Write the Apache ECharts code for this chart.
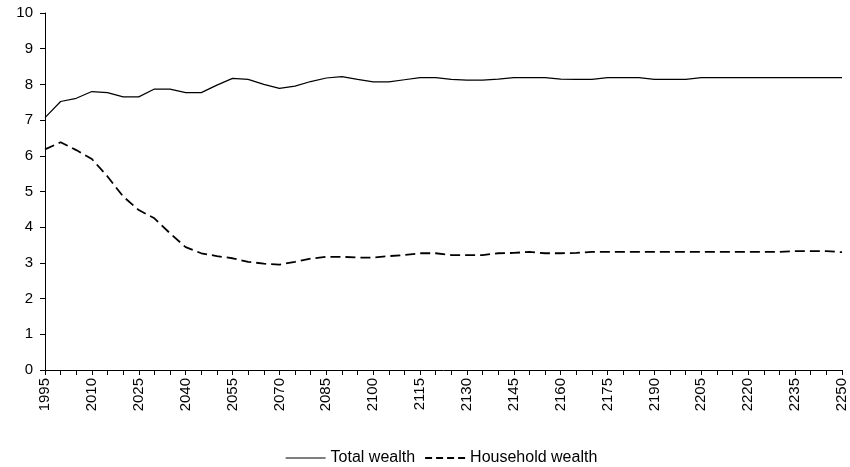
<!DOCTYPE html>
<html><head><meta charset="utf-8">
<script src="https://cdn.jsdelivr.net/npm/echarts@6/dist/echarts.min.js"></script>
<style>html,body{margin:0;padding:0;background:#fff}#c{width:850px;height:467px}</style>
</head><body><div id="c"></div>
<script>
var years = [];
for (var y = 1995; y <= 2250; y += 5) years.push(String(y));
var totalWealth = [7.07,7.52,7.61,7.80,7.77,7.65,7.65,7.87,7.87,7.77,7.77,7.98,8.17,8.14,8.00,7.89,7.95,8.08,
  8.18,8.22,8.14,8.07,8.07,8.13,8.19,8.19,8.14,8.12,8.12,8.15,8.19,8.19,8.19,8.15,8.14,
  8.14,8.19,8.19,8.19,8.14,8.14,8.14,8.19,8.19,8.19,8.19,8.19,8.19,8.19,8.19,8.19,8.19];
var householdWealth = [6.18,6.38,6.16,5.91,5.42,4.86,4.48,4.25,3.83,3.44,3.27,3.19,3.13,3.03,2.98,2.95,3.03,3.12,
  3.17,3.17,3.15,3.15,3.19,3.22,3.27,3.27,3.22,3.22,3.22,3.27,3.28,3.31,3.27,3.27,3.28,
  3.31,3.31,3.31,3.31,3.31,3.31,3.31,3.31,3.31,3.31,3.31,3.31,3.31,3.33,3.33,3.33,3.30];
var seriesNames = ['Total wealth', 'Household wealth'];
var font = 'Liberation Sans, Arial, sans-serif';
var chart = echarts.init(document.getElementById('c'));
chart.setOption({
  animation: false,
  backgroundColor: '#fff',
  grid: {left: 45, right: 8, top: 13, bottom: 97, containLabel: false},
  legend: {
    top: 445, left: 280, itemWidth: 40, itemHeight: 16, itemGap: 9,
    textStyle: {color: '#000', fontSize: 16, fontFamily: font},
    itemStyle: {opacity: 0},
    data: [
      {name: seriesNames[0], lineStyle: {color: '#000', width: 1.2, type: 'solid'}},
      {name: seriesNames[1], lineStyle: {color: '#000', width: 2, type: [7, 4]}}
    ]
  },
  xAxis: {
    type: 'category', data: years, boundaryGap: false,
    axisLine: {lineStyle: {color: '#000', width: 1}},
    axisTick: {show: true, interval: 0, length: 5, lineStyle: {color: '#000'}},
    axisLabel: {interval: 2, rotate: 90, color: '#000', fontSize: 15, fontFamily: font, margin: 8},
    splitLine: {show: false}
  },
  yAxis: {
    type: 'value', min: 0, max: 10, interval: 1,
    axisLine: {show: true, lineStyle: {color: '#000', width: 1}},
    axisTick: {show: true, length: 5, lineStyle: {color: '#000'}},
    axisLabel: {color: '#000', fontSize: 15, fontFamily: font, margin: 12},
    splitLine: {show: false}
  },
  series: [
    {name: seriesNames[0], type: 'line', data: totalWealth, symbol: 'none', smooth: false,
     lineStyle: {color: '#000', width: 1.2, type: 'solid'}, itemStyle: {color: '#000'}},
    {name: seriesNames[1], type: 'line', data: householdWealth, symbol: 'none', smooth: false,
     lineStyle: {color: '#000', width: 1.8, type: [10, 5]}, itemStyle: {color: '#000'}}
  ]
});
</script></body></html>
